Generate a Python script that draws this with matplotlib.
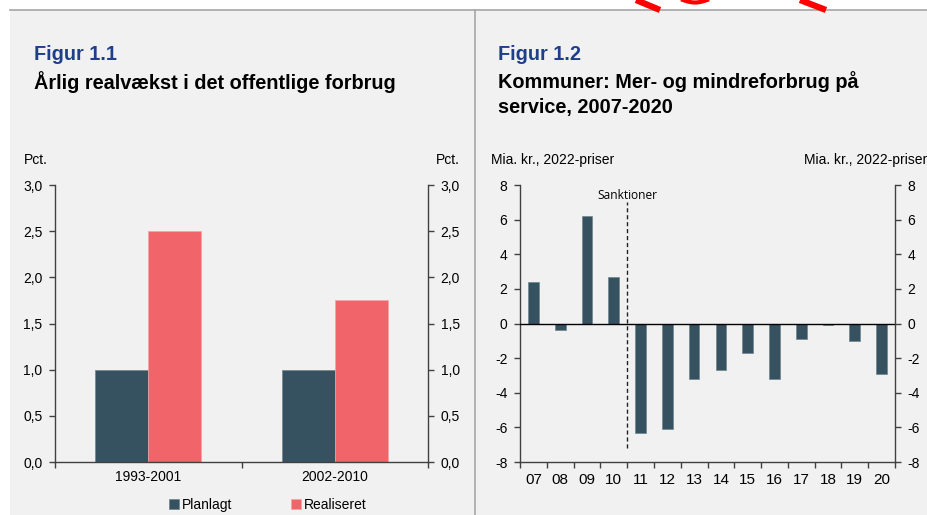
import numpy as np
import matplotlib
matplotlib.use("Agg")
import matplotlib.pyplot as plt
from matplotlib.patches import Rectangle
from matplotlib.lines import Line2D

# Figur 1.1 data
periods = ["1993-2001", "2002-2010"]
planlagt = [1.0, 1.0]
realiseret = [2.5, 1.75]

# Figur 1.2 data
years = ["07", "08", "09", "10", "11", "12", "13", "14", "15", "16", "17", "18", "19", "20"]
merforbrug = [2.4, -0.4, 6.2, 2.7, -6.3, -6.1, -3.2, -2.7, -1.7, -3.2, -0.9, -0.1, -1.0, -2.9]

dark = "#36515f"
red = "#f0646a"
blue = "#1f3f8a"
bg = "#f1f1f1"
spine_col = "#404040"

plt.rcParams["font.family"] = ["Liberation Sans", "DejaVu Sans"]
plt.rcParams["axes.unicode_minus"] = False

W, H = 927, 515
fig = plt.figure(figsize=(W / 100, H / 100), dpi=100)
fig.patch.set_facecolor("white")


def fx(px):
    return px / W


def fy(py):
    return 1 - py / H


# panel backgrounds and frame lines
fig.patches.append(Rectangle((fx(10), 0), fx(464), fy(10), transform=fig.transFigure,
                             facecolor=bg, edgecolor="none", zorder=-10))
fig.patches.append(Rectangle((fx(475), 0), fx(452), fy(10), transform=fig.transFigure,
                             facecolor=bg, edgecolor="none", zorder=-10))
fig.add_artist(Line2D([fx(10), 1], [fy(10), fy(10)], color="#a6a6a6", lw=1.2, zorder=-5))
fig.add_artist(Line2D([fx(474.5), fx(474.5)], [0, fy(10)], color="#a6a6a6", lw=1.2, zorder=-5))

# red scribble at the top edge
fig.add_artist(Line2D([fx(636), fx(660)], [fy(0), fy(10)], color="red", lw=4.5,
                      solid_capstyle="butt", zorder=-5))
fig.add_artist(Line2D([fx(800), fx(826)], [fy(0), fy(10)], color="red", lw=4.5,
                      solid_capstyle="butt", zorder=-5))
t = np.linspace(0.0, 1.0, 20)
fig.add_artist(Line2D(fx(683 + 24 * t), fy(2.5 * np.sin(np.pi * t)), color="red", lw=3, zorder=-5))


def style_axes(ax):
    ax.set_facecolor("none")
    ax.spines["top"].set_visible(False)
    for s in ["left", "right", "bottom"]:
        ax.spines[s].set_color(spine_col)
        ax.spines[s].set_linewidth(1.0)
    ax.tick_params(axis="y", which="both", left=True, right=True, labelleft=True,
                   labelright=True, direction="out", length=4, width=1,
                   color=spine_col, labelsize=10, pad=5)
    ax.tick_params(axis="x", which="major", length=0, labelsize=10, pad=6)
    ax.tick_params(axis="x", which="minor", length=4, width=1, color=spine_col, direction="out")


# ---- Figur 1.1 ----
ax1 = fig.add_axes([fx(55), fy(462), fx(428 - 55), fy(185) - fy(462)])
x = np.arange(len(periods))
bw = 0.285
ax1.bar(x - bw / 2, planlagt, bw, color=dark, edgecolor="#6f8591", linewidth=0.5, label="Planlagt")
ax1.bar(x + bw / 2, realiseret, bw, color=red, edgecolor="#f7a3a6", linewidth=0.5, label="Realiseret")
ax1.set_xlim(-0.5, len(periods) - 0.5)
ax1.set_ylim(0, 3.0)
ax1.set_yticks(np.arange(0, 3.01, 0.5))
ax1.set_yticklabels([f"{v:.1f}".replace(".", ",") for v in np.arange(0, 3.01, 0.5)])
ax1.set_xticks(x)
ax1.set_xticklabels(periods)
ax1.set_xticks(np.arange(-0.5, len(periods)), minor=True)
style_axes(ax1)

fig.legend(loc="center", bbox_to_anchor=(fx(268), fy(505)), ncol=2, frameon=False,
           fontsize=10, handlelength=0.75, handleheight=0.75, handletextpad=0.2,
           columnspacing=4.2)

fig.text(fx(34), fy(54), "Figur 1.1", color=blue, fontsize=14.3, fontweight="bold", va="center")
fig.text(fx(34), fy(82), "Årlig realvækst i det offentlige forbrug", color="black",
         fontsize=14.3, fontweight="bold", va="center")
fig.text(fx(24), fy(160), "Pct.", fontsize=10, va="center")
fig.text(fx(460), fy(160), "Pct.", fontsize=10, va="center", ha="right")

# ---- Figur 1.2 ----
ax2 = fig.add_axes([fx(520), fy(462), fx(895 - 520), fy(185) - fy(462)])
xi = np.arange(len(years))
ax2.bar(xi, merforbrug, 0.4, color=dark, edgecolor="#6f8591", linewidth=0.5, zorder=2)
ax2.axhline(0, color="black", lw=1, zorder=3)
ax2.axvline(3.5, ymin=(-7.2 + 8) / 16, ymax=(7.0 + 8) / 16, color="#222222", lw=1,
            linestyle=(0, (3, 2)), zorder=3)
ax2.text(3.5, 7.4, "Sanktioner", family=["Open Sans", "DejaVu Sans"], fontsize=8.6,
         ha="center", va="center")
ax2.set_xlim(-0.5, len(years) - 0.5)
ax2.set_ylim(-8, 8)
ax2.set_yticks(np.arange(-8, 9, 2))
ax2.set_xticks(xi)
ax2.set_xticklabels(years)
ax2.set_xticks(np.arange(-0.5, len(years)), minor=True)
style_axes(ax2)
ax2.tick_params(axis="x", which="major", labelsize=11, pad=8)

fig.text(fx(498), fy(54), "Figur 1.2", color=blue, fontsize=14.3, fontweight="bold", va="center")
fig.text(fx(498), fy(82), "Kommuner: Mer- og mindreforbrug på", color="black",
         fontsize=14.3, fontweight="bold", va="center")
fig.text(fx(498), fy(108), "service, 2007-2020", color="black",
         fontsize=14.3, fontweight="bold", va="center")
fig.text(fx(491), fy(160), "Mia. kr., 2022-priser", fontsize=10, va="center")
fig.text(fx(927), fy(160), "Mia. kr., 2022-priser", fontsize=10, va="center", ha="right")

fig.savefig("out.png", dpi=100, facecolor=fig.get_facecolor())
